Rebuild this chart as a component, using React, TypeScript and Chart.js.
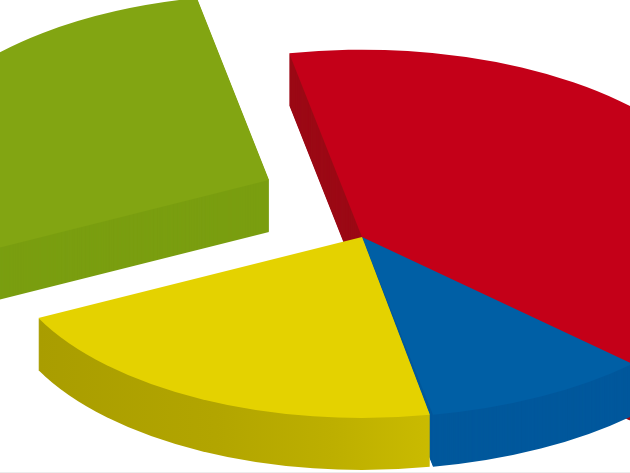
import React, { useEffect, useRef } from "react";
import { Chart, registerables } from "chart.js";

Chart.register(...registerables);

const categories = ["Red", "Blue", "Yellow", "Green"];
const shares = [40.47, 9.64, 20.61, 29.28];

const topColors = ["#c40018", "#005fa5", "#e4d200", "#82a512"];
const sideColors = ["#9c0a16", "#00589c", "#b8aa00", "#7a9e10"];

// Slice geometry of the tilted, exploded view
const tilt = 0.5;
const depth = 52;
const drawOrder = [3, 0, 1, 2];
const sliceShiftX = [0, 0, 0, -93];
const sliceShiftY = [0, 0, 0, -57];
const sliceGrowX = [1.035, 1.047, 1, 1.025];
const sliceGrowY = [1.035, 1, 1, 1.025];

function yellowSide(ctx: CanvasRenderingContext2D) {
  const g = ctx.createLinearGradient(38, 0, 432, 0);
  g.addColorStop(0, "#a99d00");
  g.addColorStop(0.45, "#b2a500");
  g.addColorStop(0.75, "#bdaf00");
  g.addColorStop(1, "#cabb00");
  return g;
}

const pie3d = {
  id: "pie3d",
  beforeDatasetsDraw(chart: any) {
    const { ctx } = chart;
    const arcs = chart.getDatasetMeta(0).data;
    const paint = (arc: any, i: number, dy: number, color: any) => {
      const saved = arc.options;
      const opts = Object.create(saved);
      opts.backgroundColor = color;
      arc.options = opts;
      ctx.save();
      ctx.translate(arc.x + sliceShiftX[i], arc.y + sliceShiftY[i] + dy);
      ctx.scale(sliceGrowX[i], tilt * sliceGrowY[i]);
      ctx.translate(-arc.x, -arc.y);
      arc.draw(ctx);
      ctx.restore();
      arc.options = saved;
    };
    for (const i of drawOrder) {
      const side = i === 2 ? yellowSide(ctx) : sideColors[i];
      for (let d = depth; d >= 1; d--) paint(arcs[i], i, d, side);
      paint(arcs[i], i, 0, topColors[i]);
    }
    return false;
  },
};

export default function App() {
  const ref = useRef<HTMLCanvasElement>(null);
  useEffect(() => {
    document.body.style.margin = "0";
    const chart = new Chart(ref.current!, {
      type: "pie",
      data: {
        labels: categories,
        datasets: [{ data: shares, backgroundColor: topColors, borderWidth: 0 }],
      },
      options: {
        animation: false,
        responsive: false,
        radius: 362,
        rotation: -11.2,
        layout: { padding: { left: 94, top: 1 } },
        plugins: { legend: { display: false }, tooltip: { enabled: false } },
      },
      plugins: [pie3d],
    } as any);
    return () => chart.destroy();
  }, []);
  return (
    <div style={{ position: "relative", width: 630, height: 473, overflow: "hidden", background: "#fff" }}>
      <canvas ref={ref} width={630} height={473} style={{ display: "block" }} />
      <div style={{ position: "absolute", left: 0, right: 0, bottom: 0, height: 1, background: "#ececec" }} />
    </div>
  );
}
